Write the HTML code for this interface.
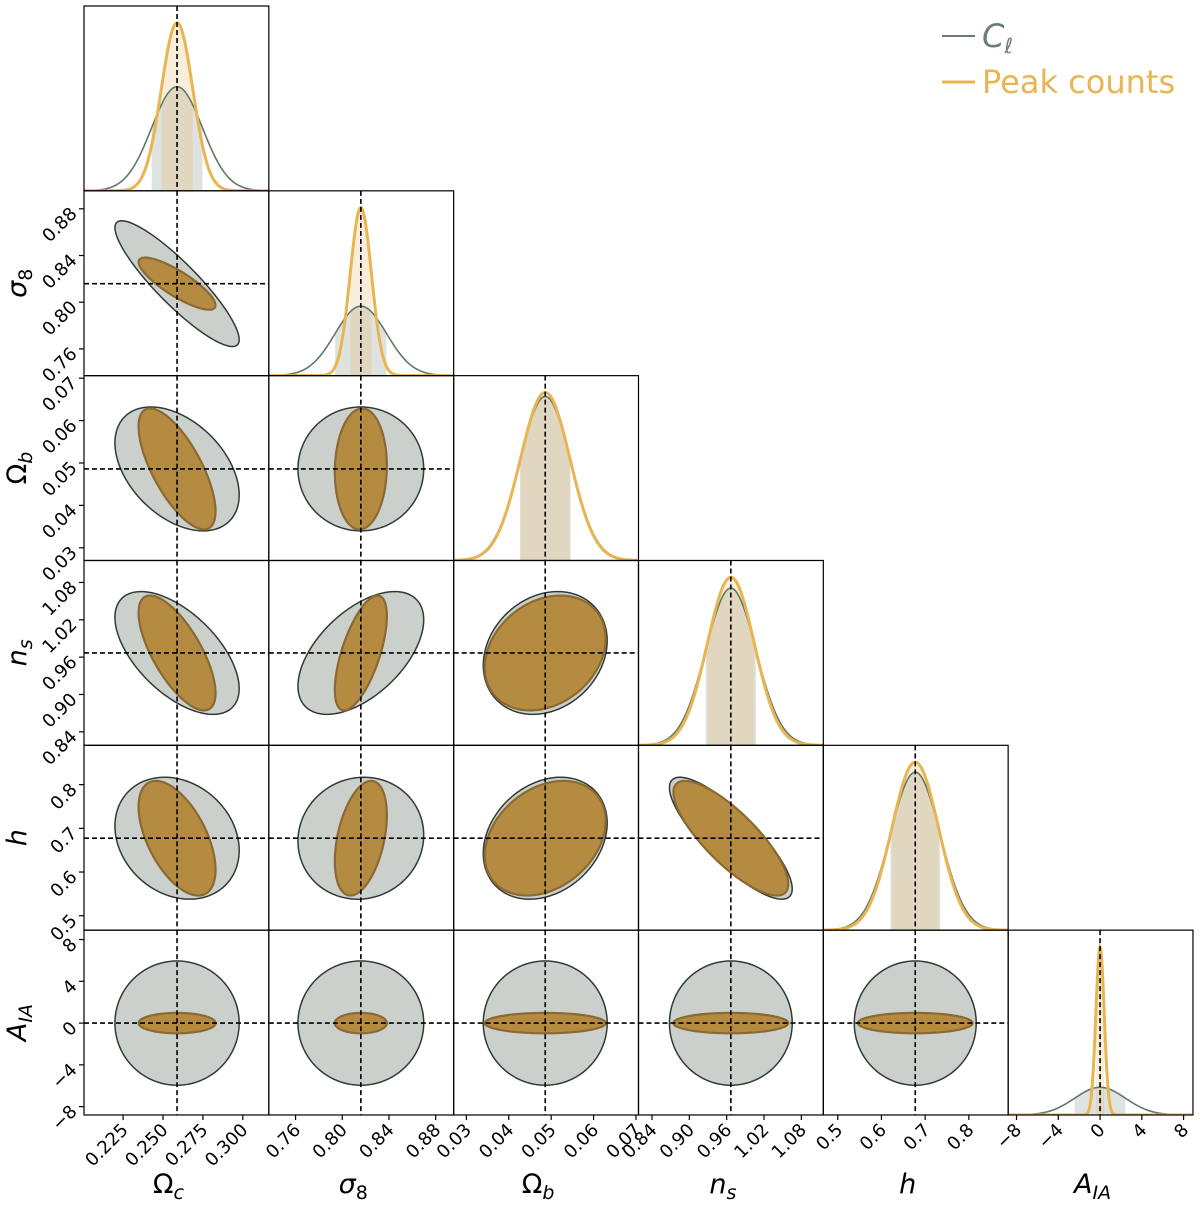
<!DOCTYPE html>
<html><head><meta charset="utf-8"><style>
html,body{margin:0;padding:0;background:#fff;}
svg{display:block;font-family:"DejaVu Sans","Liberation Sans",sans-serif;}
</style></head><body>
<svg id="chart" width="1200" height="1207" viewBox="0 0 1200 1207" xmlns="http://www.w3.org/2000/svg">
<g id="legend">
  <line x1="942" y1="36" x2="975" y2="36" stroke="#6b7f6f" stroke-width="2"/>
  <text x="982" y="47" font-size="32" fill="#6b7f6f" font-style="italic">C<tspan font-size="21" dy="6">ℓ</tspan></text>
  <line x1="942" y1="82" x2="975" y2="82" stroke="#e8b552" stroke-width="3"/>
  <text x="982" y="93" font-size="32" fill="#e8b552">Peak counts</text>
</g>
</svg>
<script>
// parameter definitions
const params = ["Omega_c","sigma_8","Omega_b","n_s","h","A_IA"];
const fiducial = [0.2588, 0.8159, 0.0486, 0.9667, 0.6774, 0.0];
const rangeMin = [0.2005, 0.7371, 0.0270, 0.8183, 0.467, -8.8];
const rangeMax = [0.3163, 0.8954, 0.0706, 1.1153, 0.890, 8.9];
const sigmaCl = [0.0159, 0.0220, 0.00597, 0.0403, 0.0570, 2.43];
const sigmaPC = [0.00985, 0.00910, 0.00583, 0.0377, 0.0536, 0.40];
// correlations for pairs (i<j): 01,02,03,04,05,12,13,14,15,23,24,25,34,35,45
const corrCl = [-0.89, -0.42, -0.58, -0.2, 0, 0.0, 0.54, 0.05, 0, 0.2, 0.25, 0, -0.83, 0, 0];
const corrPC = [-0.83, -0.7, -0.7, -0.55, 0, 0.05, 0.64, 0.4, 0, 0.25, 0.3, 0, -0.8, 0, 0];
const tickVals = [[0.225,0.25,0.275,0.3],[0.76,0.80,0.84,0.88],[0.03,0.04,0.05,0.06,0.07],[0.84,0.90,0.96,1.02,1.08],[0.5,0.6,0.7,0.8],[-8,-4,0,4,8]];
const tickLabels = [["0.225","0.250","0.275","0.300"],["0.76","0.80","0.84","0.88"],["0.03","0.04","0.05","0.06","0.07"],["0.84","0.90","0.96","1.02","1.08"],["0.5","0.6","0.7","0.8"],["−8","−4","0","4","8"]];

const NS="http://www.w3.org/2000/svg";
const svg=document.getElementById('chart');
const X0=84, Y0=6, S=184.83, N=6, K=2.448, PEAK=168;
function el(t,a,p){const e=document.createElementNS(NS,t);for(const k in a)e.setAttribute(k,a[k]);(p||svg).appendChild(e);return e;}
function xs(i,v,c){return X0+c*S+(v-rangeMin[i])/(rangeMax[i]-rangeMin[i])*S;}
function ys(j,v,r){return Y0+(r+1)*S-(v-rangeMin[j])/(rangeMax[j]-rangeMin[j])*S;}
function pairIdx(i,j){let k=0;for(let a=0;a<N;a++)for(let b=a+1;b<N;b++){if(a===i&&b===j)return k;k++;}return -1;}
const defs=el('defs',{});

function ellipsePath(i,j,r,c,sig,rho){
  const sx=sig[i], sy=sig[j]; let d='';
  for(let t=0;t<=120;t++){const th=t/120*2*Math.PI;
    const vx=fiducial[i]+K*sx*Math.cos(th);
    const vy=fiducial[j]+K*(rho*sy*Math.cos(th)+sy*Math.sqrt(1-rho*rho)*Math.sin(th));
    d+=(t?'L':'M')+xs(i,vx,c).toFixed(2)+' '+ys(j,vy,r).toFixed(2);}
  return d+'Z';
}

for(let r=0;r<N;r++){for(let c=0;c<=r;c++){
  const px=X0+c*S, py=Y0+r*S;
  const g=el('g',{});
  
  
  const cid='clip'+r+'_'+c;
  const cp=el('clipPath',{id:cid},defs); el('rect',{x:px,y:py,width:S,height:S},cp);
  const inner=el('g',{'clip-path':'url(#'+cid+')'},g);
  if(r===c){
    const i=r, base=py+S;
    const smin=Math.min(sigmaCl[i],sigmaPC[i]);
    function curve(sig){let pts=[];for(let t=0;t<=300;t++){const v=rangeMin[i]+(rangeMax[i]-rangeMin[i])*t/300;const h=PEAK*(smin/sig)*Math.exp(-0.5*Math.pow((v-fiducial[i])/sig,2));pts.push([xs(i,v,c),base-h]);}return pts;}
    const cc=curve(sigmaCl[i]), cpk=curve(sigmaPC[i]);
    const line=p=>p.map((q,k)=>(k?'L':'M')+q[0].toFixed(2)+' '+q[1].toFixed(2)).join('');
    const area=p=>line(p)+'L'+p[p.length-1][0]+' '+base+'L'+p[0][0]+' '+base+'Z';
    const gid='gcur'+i, oid='ocur'+i;
    el('path',{d:area(cc)},el('clipPath',{id:gid},defs));
    el('path',{d:area(cpk)},el('clipPath',{id:oid},defs));
    const gx1=xs(i,fiducial[i]-sigmaCl[i],c), gx2=xs(i,fiducial[i]+sigmaCl[i],c);
    const ox1=xs(i,fiducial[i]-sigmaPC[i],c), ox2=xs(i,fiducial[i]+sigmaPC[i],c);
    const ob=el('rect',{x:ox1,y:py,width:ox2-ox1,height:S,fill:'#f8eedb','clip-path':'url(#'+oid+')'},inner);
    
    
    const gb=el('rect',{x:gx1,y:py,width:gx2-gx1,height:S,fill:'#dfe3e0','clip-path':'url(#'+gid+')'},inner);
    
    
    const og=el('g',{'clip-path':'url(#'+oid+')'},inner);
    const ovx1=Math.max(gx1,ox1), ovx2=Math.min(gx2,ox2);
    const ov=el('rect',{x:ovx1,y:py,width:Math.max(0,ovx2-ovx1),height:S,fill:'#e1d7c1','clip-path':'url(#'+gid+')'},og);
    
    
    const lc=el('path',{d:line(cc),fill:'none',stroke:'#5f7a64','stroke-width':1.6},inner);
    
    
    const lp=el('path',{d:line(cpk),fill:'none',stroke:'#e8b552','stroke-width':3},inner);
    
    
    const fx=xs(i,fiducial[i],c);
    const dl=el('line',{x1:fx,y1:py,x2:fx,y2:py+S,stroke:'#000','stroke-width':1.6,'stroke-dasharray':'5,3'},inner);
    
    
  } else {
    const i=c,j=r,k=pairIdx(c,r);
    const eg=el('path',{d:ellipsePath(i,j,r,c,sigmaCl,corrCl[k]),fill:'#ccd0cc',stroke:'#2f3b32','stroke-width':1.5},inner);
    
    
    const eo=el('path',{d:ellipsePath(i,j,r,c,sigmaPC,corrPC[k]),fill:'#b48b40',stroke:'#8a6a32','stroke-width':2.2},inner);
    
    
    const fx=xs(i,fiducial[i],c), fy=ys(j,fiducial[j],r);
    const v=el('line',{x1:fx,y1:py,x2:fx,y2:py+S,stroke:'#000','stroke-width':1.6,'stroke-dasharray':'5,3'},inner);
    
    
    const h=el('line',{x1:px,y1:fy,x2:px+S,y2:fy,stroke:'#000','stroke-width':1.6,'stroke-dasharray':'5,3'},inner);
    
    
  }
  const fr=el('rect',{x:px,y:py,width:S,height:S,fill:'none',stroke:'#000','stroke-width':1.2},g);
  
  
}}

const symbols=[['Ω','c'],['σ','8'],['Ω','b'],['n','s'],['h',''],['A','IA']];
function axisLabel(idx,x,y,rot){
  const t=el('text',{x:x,y:y,'font-size':27,'text-anchor':'middle',fill:'#000'});
  if(rot)t.setAttribute('transform','rotate(-90 '+x+' '+y+')');
  
  
  const a=el('tspan',{'font-style':(symbols[idx][0]==='Ω'?'normal':'italic')},t); a.textContent=symbols[idx][0];
  if(symbols[idx][1]){const b=el('tspan',{'font-size':19,dy:6,'font-style':(symbols[idx][1]==='8'?'normal':'italic')},t);b.textContent=symbols[idx][1];}
}
// x axis ticks
const yb=Y0+N*S;
for(let c=0;c<N;c++){
  tickVals[c].forEach((v,k)=>{
    const x=xs(c,v,c);
    const tk=el('line',{x1:x,y1:yb,x2:x,y2:yb+5,stroke:'#000','stroke-width':1.2});
    
    
    const t=el('text',{x:x+6,y:yb+16,'font-size':18,'text-anchor':'end',transform:'rotate(-45 '+(x+6)+' '+(yb+16)+')'});
    t.textContent=tickLabels[c][k];
    
    
  });
  axisLabel(c,X0+c*S+S/2-8,yb+78,false);
}
// y axis ticks
for(let r=1;r<N;r++){
  tickVals[r].forEach((v,k)=>{
    const y=ys(r,v,r);
    const tk=el('line',{x1:X0-5,y1:y,x2:X0,y2:y,stroke:'#000','stroke-width':1.2});
    
    
    const t=el('text',{x:X0-6,y:y+6,'font-size':18,'text-anchor':'end',transform:'rotate(-45 '+(X0-6)+' '+(y+6)+')'});
    t.textContent=tickLabels[r][k];
    
    
  });
  axisLabel(r,26,Y0+r*S+S/2,true);
}
</script>
</body></html>
